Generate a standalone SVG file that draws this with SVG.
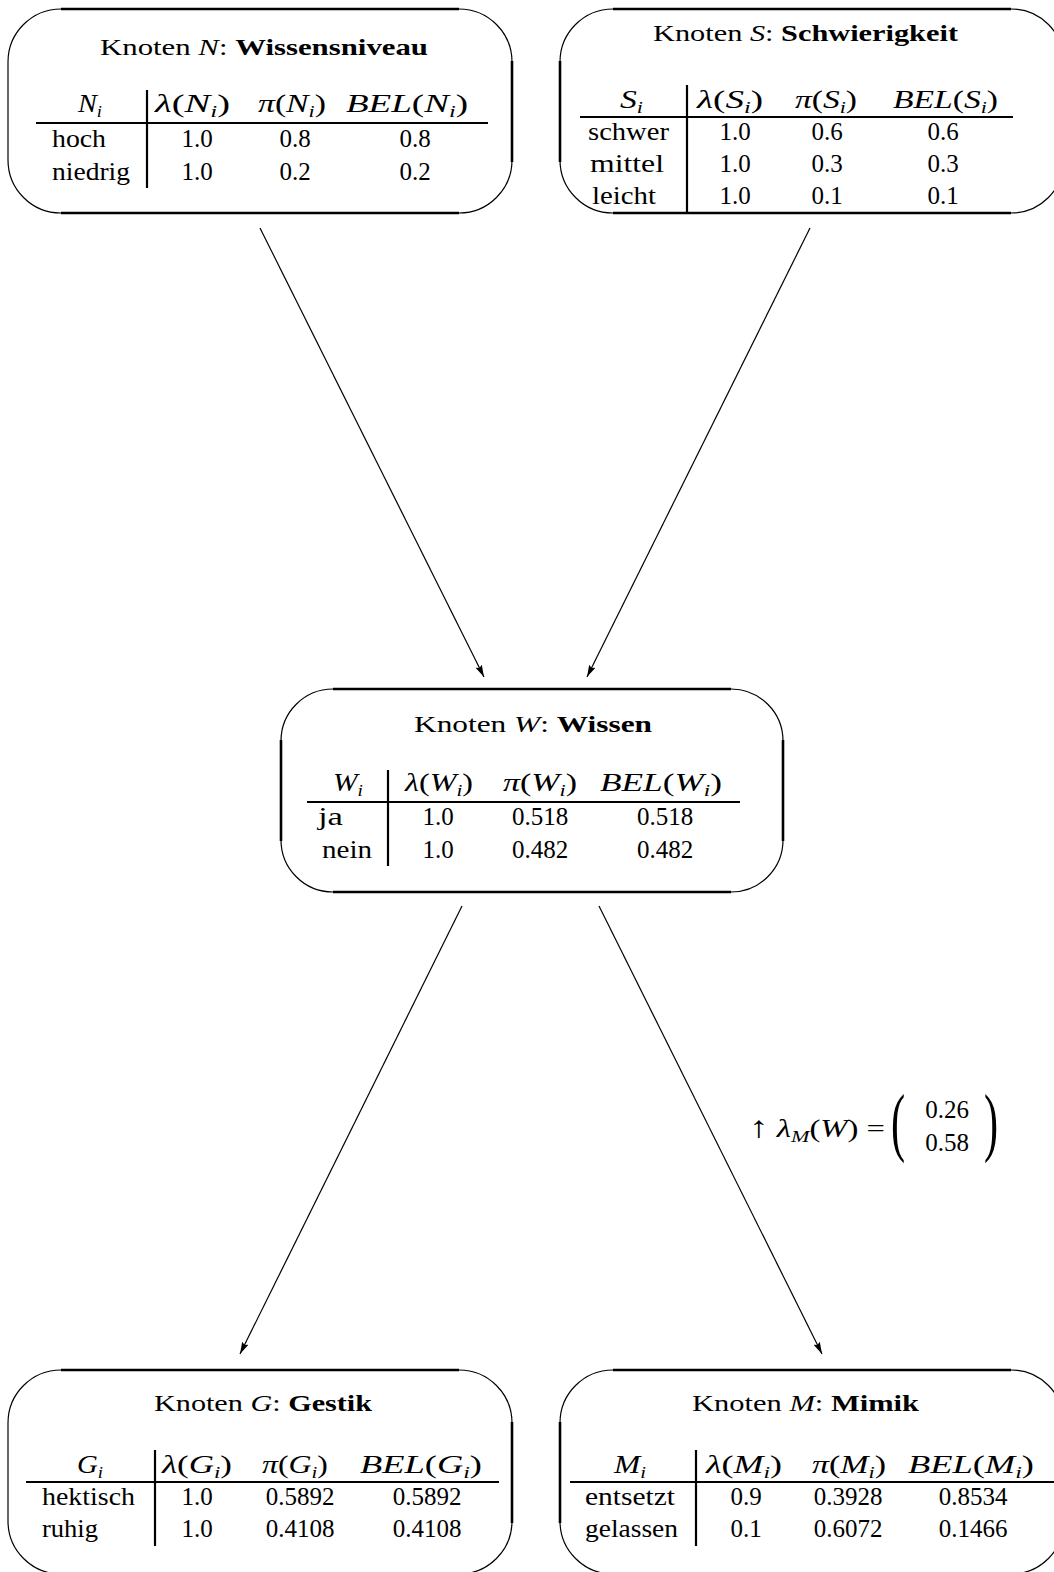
<svg xmlns="http://www.w3.org/2000/svg" width="1054" height="1572" viewBox="0 0 1054 1572">
  <defs>
    <style>
      .t { font-family: "Liberation Serif", "Times New Roman", serif; font-size: 25px; fill: #000; }
      .ti { font-size: 23px; }
      .h { font-size: 26px; }
      .it { font-style: italic; }
      .b { font-weight: bold; }
      .sub { font-size: 17px; font-style: italic; }
      .big { font-size: 77px; }
      .arr { font-size: 30px; }
      .edge { fill: none; stroke: #000; stroke-width: 2.6; }
      .arc { fill: none; stroke: #000; stroke-width: 1.2; }
      .side { fill: none; stroke: #000; stroke-width: 1.2; }
      .rule { stroke: #000; stroke-width: 2.2; }
      .conn { fill: none; stroke: #000; stroke-width: 1.2; }
      .c { text-anchor: middle; }
    </style>
    <marker id="arrow" viewBox="0 0 12 7" refX="12" refY="3.5" markerWidth="12" markerHeight="7" markerUnits="userSpaceOnUse" orient="auto">
      <path d="M0,0 L12,3.5 L0,7 L2,3.5 z" fill="#000"/>
    </marker>
  </defs>
  <rect width="1054" height="1572" fill="#fff"/>

  <!-- connectors -->
  <g id="connectors">
    <line class="conn" x1="260" y1="228" x2="484" y2="677" marker-end="url(#arrow)"/>
    <line class="conn" x1="810" y1="228" x2="587" y2="677" marker-end="url(#arrow)"/>
    <line class="conn" x1="462" y1="906" x2="240" y2="1354" marker-end="url(#arrow)"/>
    <line class="conn" x1="599" y1="906" x2="822" y2="1354" marker-end="url(#arrow)"/>
    <g id="label-lambda-M">
      <text class="t" x="749" y="1137" textLength="136" lengthAdjust="spacingAndGlyphs"><tspan class="arr">↑</tspan> <tspan class="it">λ</tspan><tspan class="sub" dy="5">M</tspan><tspan dy="-5">(</tspan><tspan class="it">W</tspan>) =</text>
      <text class="t big" transform="translate(891,1147) scale(0.55,1)">(</text>
      <text class="t c" x="947" y="1118">0.26</text>
      <text class="t c" x="947" y="1151">0.58</text>
      <text class="t big" transform="translate(984,1147) scale(0.55,1)">)</text>
    </g>
  </g>

  <!-- Knoten N -->
  <g id="node-N">
    <path class="edge" d="M61,9 H459 M61,213 H459"/>
    <path class="arc" d="M459,9 A53,53 0 0 1 512,62 M512,160 A53,53 0 0 1 459,213 M61,213 A53,53 0 0 1 8,160 M8,62 A53,53 0 0 1 61,9"/>
    <path class="side" d="M8,62 V160"/>
    <path class="edge" d="M512,61 V162"/>
    <text class="t ti" x="100" y="55" textLength="328" lengthAdjust="spacingAndGlyphs">Knoten <tspan class="it">N</tspan>: <tspan class="b">Wissensniveau</tspan></text>
    <text class="t h" x="78" y="112" textLength="24" lengthAdjust="spacingAndGlyphs"><tspan class="it">N</tspan><tspan class="sub" dy="5">i</tspan></text>
    <text class="t h" x="155" y="112" textLength="75" lengthAdjust="spacingAndGlyphs"><tspan class="it">λ</tspan>(<tspan class="it">N</tspan><tspan class="sub" dy="5">i</tspan><tspan dy="-5">)</tspan></text>
    <text class="t h" x="258" y="112" textLength="68" lengthAdjust="spacingAndGlyphs"><tspan class="it">π</tspan>(<tspan class="it">N</tspan><tspan class="sub" dy="5">i</tspan><tspan dy="-5">)</tspan></text>
    <text class="t h" x="346" y="112" textLength="122" lengthAdjust="spacingAndGlyphs"><tspan class="it">BEL</tspan>(<tspan class="it">N</tspan><tspan class="sub" dy="5">i</tspan><tspan dy="-5">)</tspan></text>
    <line class="rule" x1="36" y1="123" x2="488" y2="123"/>
    <line class="rule" x1="147" y1="90" x2="147" y2="188"/>
    <text class="t" x="52" y="147" textLength="54" lengthAdjust="spacingAndGlyphs">hoch</text>
    <text class="t c" x="197" y="147">1.0</text>
    <text class="t c" x="295" y="147">0.8</text>
    <text class="t c" x="415" y="147">0.8</text>
    <text class="t" x="52" y="180" textLength="78" lengthAdjust="spacingAndGlyphs">niedrig</text>
    <text class="t c" x="197" y="180">1.0</text>
    <text class="t c" x="295" y="180">0.2</text>
    <text class="t c" x="415" y="180">0.2</text>
  </g>

  <!-- Knoten S -->
  <g id="node-S">
    <path class="edge" d="M613,9 H1011 M613,213 H1011"/>
    <path class="arc" d="M1011,9 A53,53 0 0 1 1064,62 M1064,160 A53,53 0 0 1 1011,213 M613,213 A53,53 0 0 1 560,160 M560,62 A53,53 0 0 1 613,9"/>
    <path class="edge" d="M560,61 V162"/>
    <text class="t ti" x="653" y="41" textLength="305" lengthAdjust="spacingAndGlyphs">Knoten <tspan class="it">S</tspan>: <tspan class="b">Schwierigkeit</tspan></text>
    <text class="t h" x="620" y="108" textLength="23" lengthAdjust="spacingAndGlyphs"><tspan class="it">S</tspan><tspan class="sub" dy="5">i</tspan></text>
    <text class="t h" x="697" y="108" textLength="66" lengthAdjust="spacingAndGlyphs"><tspan class="it">λ</tspan>(<tspan class="it">S</tspan><tspan class="sub" dy="5">i</tspan><tspan dy="-5">)</tspan></text>
    <text class="t h" x="795" y="108" textLength="62" lengthAdjust="spacingAndGlyphs"><tspan class="it">π</tspan>(<tspan class="it">S</tspan><tspan class="sub" dy="5">i</tspan><tspan dy="-5">)</tspan></text>
    <text class="t h" x="893" y="108" textLength="105" lengthAdjust="spacingAndGlyphs"><tspan class="it">BEL</tspan>(<tspan class="it">S</tspan><tspan class="sub" dy="5">i</tspan><tspan dy="-5">)</tspan></text>
    <line class="rule" x1="580" y1="117" x2="1013" y2="117"/>
    <line class="rule" x1="687" y1="85" x2="687" y2="212"/>
    <text class="t" x="588" y="140" textLength="81" lengthAdjust="spacingAndGlyphs">schwer</text>
    <text class="t c" x="735" y="140">1.0</text>
    <text class="t c" x="827" y="140">0.6</text>
    <text class="t c" x="943" y="140">0.6</text>
    <text class="t" x="590" y="172" textLength="74" lengthAdjust="spacingAndGlyphs">mittel</text>
    <text class="t c" x="735" y="172">1.0</text>
    <text class="t c" x="827" y="172">0.3</text>
    <text class="t c" x="943" y="172">0.3</text>
    <text class="t" x="592" y="204" textLength="64" lengthAdjust="spacingAndGlyphs">leicht</text>
    <text class="t c" x="735" y="204">1.0</text>
    <text class="t c" x="827" y="204">0.1</text>
    <text class="t c" x="943" y="204">0.1</text>
  </g>

  <!-- Knoten W -->
  <g id="node-W">
    <path class="edge" d="M333,689 H731 M333,892 H731"/>
    <path class="arc" d="M731,689 A52,52 0 0 1 783,741 M783,840 A52,52 0 0 1 731,892 M333,892 A52,52 0 0 1 281,840 M281,741 A52,52 0 0 1 333,689"/>
    <path class="edge" d="M281,740 V841 M783,740 V841"/>
    <text class="t ti" x="414" y="732" textLength="238" lengthAdjust="spacingAndGlyphs">Knoten <tspan class="it">W</tspan>: <tspan class="b">Wissen</tspan></text>
    <text class="t h" x="333" y="791" textLength="30" lengthAdjust="spacingAndGlyphs"><tspan class="it">W</tspan><tspan class="sub" dy="5">i</tspan></text>
    <text class="t h" x="405" y="791" textLength="68" lengthAdjust="spacingAndGlyphs"><tspan class="it">λ</tspan>(<tspan class="it">W</tspan><tspan class="sub" dy="5">i</tspan><tspan dy="-5">)</tspan></text>
    <text class="t h" x="503" y="791" textLength="74" lengthAdjust="spacingAndGlyphs"><tspan class="it">π</tspan>(<tspan class="it">W</tspan><tspan class="sub" dy="5">i</tspan><tspan dy="-5">)</tspan></text>
    <text class="t h" x="600" y="791" textLength="122" lengthAdjust="spacingAndGlyphs"><tspan class="it">BEL</tspan>(<tspan class="it">W</tspan><tspan class="sub" dy="5">i</tspan><tspan dy="-5">)</tspan></text>
    <line class="rule" x1="307" y1="802" x2="740" y2="802"/>
    <line class="rule" x1="388" y1="770" x2="388" y2="866"/>
    <text class="t" x="318" y="825" textLength="25" lengthAdjust="spacingAndGlyphs">ja</text>
    <text class="t c" x="438" y="825">1.0</text>
    <text class="t c" x="540" y="825">0.518</text>
    <text class="t c" x="665" y="825">0.518</text>
    <text class="t" x="322" y="858" textLength="50" lengthAdjust="spacingAndGlyphs">nein</text>
    <text class="t c" x="438" y="858">1.0</text>
    <text class="t c" x="540" y="858">0.482</text>
    <text class="t c" x="665" y="858">0.482</text>
  </g>

  <!-- Knoten G -->
  <g id="node-G">
    <path class="edge" d="M61,1370 H459 M61,1574 H459"/>
    <path class="arc" d="M459,1370 A53,53 0 0 1 512,1423 M512,1521 A53,53 0 0 1 459,1574 M61,1574 A53,53 0 0 1 8,1521 M8,1423 A53,53 0 0 1 61,1370"/>
    <path class="side" d="M8,1423 V1521"/>
    <path class="edge" d="M512,1422 V1523"/>
    <text class="t ti" x="154" y="1411" textLength="218" lengthAdjust="spacingAndGlyphs">Knoten <tspan class="it">G</tspan>: <tspan class="b">Gestik</tspan></text>
    <text class="t h" x="77" y="1473" textLength="26" lengthAdjust="spacingAndGlyphs"><tspan class="it">G</tspan><tspan class="sub" dy="5">i</tspan></text>
    <text class="t h" x="162" y="1473" textLength="70" lengthAdjust="spacingAndGlyphs"><tspan class="it">λ</tspan>(<tspan class="it">G</tspan><tspan class="sub" dy="5">i</tspan><tspan dy="-5">)</tspan></text>
    <text class="t h" x="262" y="1473" textLength="66" lengthAdjust="spacingAndGlyphs"><tspan class="it">π</tspan>(<tspan class="it">G</tspan><tspan class="sub" dy="5">i</tspan><tspan dy="-5">)</tspan></text>
    <text class="t h" x="360" y="1473" textLength="122" lengthAdjust="spacingAndGlyphs"><tspan class="it">BEL</tspan>(<tspan class="it">G</tspan><tspan class="sub" dy="5">i</tspan><tspan dy="-5">)</tspan></text>
    <line class="rule" x1="26" y1="1482" x2="499" y2="1482"/>
    <line class="rule" x1="155" y1="1450" x2="155" y2="1546"/>
    <text class="t" x="42" y="1505" textLength="93" lengthAdjust="spacingAndGlyphs">hektisch</text>
    <text class="t c" x="197" y="1505">1.0</text>
    <text class="t c" x="300" y="1505">0.5892</text>
    <text class="t c" x="427" y="1505">0.5892</text>
    <text class="t" x="42" y="1537" textLength="56" lengthAdjust="spacingAndGlyphs">ruhig</text>
    <text class="t c" x="197" y="1537">1.0</text>
    <text class="t c" x="300" y="1537">0.4108</text>
    <text class="t c" x="427" y="1537">0.4108</text>
  </g>

  <!-- Knoten M -->
  <g id="node-M">
    <path class="edge" d="M613,1370 H1011 M613,1574 H1011"/>
    <path class="arc" d="M1011,1370 A53,53 0 0 1 1064,1423 M1064,1521 A53,53 0 0 1 1011,1574 M613,1574 A53,53 0 0 1 560,1521 M560,1423 A53,53 0 0 1 613,1370"/>
    <path class="edge" d="M560,1422 V1523"/>
    <text class="t ti" x="692" y="1411" textLength="227" lengthAdjust="spacingAndGlyphs">Knoten <tspan class="it">M</tspan>: <tspan class="b">Mimik</tspan></text>
    <text class="t h" x="614" y="1473" textLength="32" lengthAdjust="spacingAndGlyphs"><tspan class="it">M</tspan><tspan class="sub" dy="5">i</tspan></text>
    <text class="t h" x="706" y="1473" textLength="76" lengthAdjust="spacingAndGlyphs"><tspan class="it">λ</tspan>(<tspan class="it">M</tspan><tspan class="sub" dy="5">i</tspan><tspan dy="-5">)</tspan></text>
    <text class="t h" x="812" y="1473" textLength="74" lengthAdjust="spacingAndGlyphs"><tspan class="it">π</tspan>(<tspan class="it">M</tspan><tspan class="sub" dy="5">i</tspan><tspan dy="-5">)</tspan></text>
    <text class="t h" x="908" y="1473" textLength="126" lengthAdjust="spacingAndGlyphs"><tspan class="it">BEL</tspan>(<tspan class="it">M</tspan><tspan class="sub" dy="5">i</tspan><tspan dy="-5">)</tspan></text>
    <line class="rule" x1="570" y1="1482" x2="1054" y2="1482"/>
    <line class="rule" x1="696" y1="1450" x2="696" y2="1546"/>
    <text class="t" x="585" y="1505" textLength="90" lengthAdjust="spacingAndGlyphs">entsetzt</text>
    <text class="t c" x="746" y="1505">0.9</text>
    <text class="t c" x="848" y="1505">0.3928</text>
    <text class="t c" x="973" y="1505">0.8534</text>
    <text class="t" x="585" y="1537" textLength="93" lengthAdjust="spacingAndGlyphs">gelassen</text>
    <text class="t c" x="746" y="1537">0.1</text>
    <text class="t c" x="848" y="1537">0.6072</text>
    <text class="t c" x="973" y="1537">0.1466</text>
  </g>
</svg>
